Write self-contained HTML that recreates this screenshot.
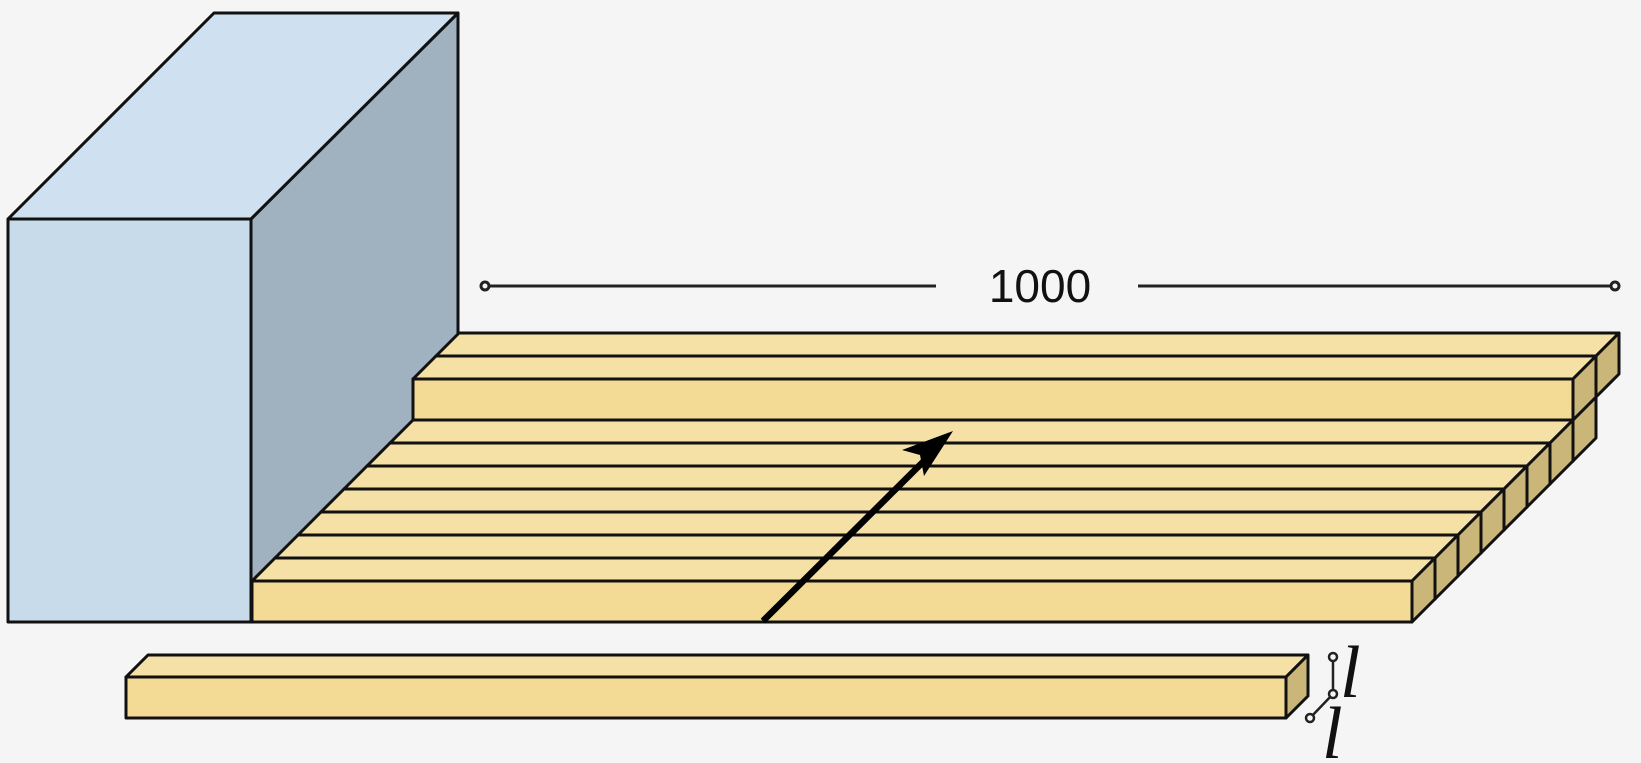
<!DOCTYPE html>
<html><head><meta charset="utf-8"><style>
html,body{margin:0;padding:0;background:#f5f5f5;}
svg{display:block;}
</style></head><body>
<svg id="fig" width="1641" height="763" viewBox="0 0 1641 763" xmlns="http://www.w3.org/2000/svg">
<rect width="1641" height="763" fill="#f5f5f5"/>
<g stroke="#111" stroke-width="3" stroke-linejoin="round">
<polygon points="251,219 458,13 458,400 251,622" fill="#a0b1c0"/>
<polygon points="8,219 214,13 458,13 251,219" fill="#cfe1f0"/>
<rect x="8" y="219" width="243" height="403" fill="#c8dbeb"/>
</g>
<g id="bars"></g>
<g stroke="#222" stroke-width="3" fill="#f5f5f5">
<line x1="489" y1="286" x2="936" y2="286"/>
<line x1="1138" y1="286" x2="1611" y2="286"/>
<circle cx="485" cy="286" r="4"/>
<circle cx="1615" cy="286" r="4"/>
</g>
<text x="1040" y="302" text-anchor="middle" font-family="Liberation Sans, sans-serif" font-size="46" fill="#111">1000</text>
<g>
<line x1="763" y1="621" x2="932" y2="453" stroke="#000" stroke-width="6.5"/>
<polygon points="953,431 902,450 920,455 924,476" fill="#000"/>
</g>
<g stroke="#222" stroke-width="2.5" fill="#f5f5f5">
<line x1="1333" y1="657" x2="1333" y2="694"/>
<line x1="1333" y1="694" x2="1310" y2="718"/>
<circle cx="1333" cy="657" r="4"/>
<circle cx="1333" cy="694" r="4"/>
<circle cx="1310" cy="718" r="4"/>
</g>
<text x="1340" y="697" font-family="Liberation Serif, serif" font-style="italic" font-size="74" fill="#111">l</text>
<text x="1322" y="758" font-family="Liberation Serif, serif" font-style="italic" font-size="74" fill="#111">l</text>
</svg>
<script>
const bottomLayerCount = 8;
const topLayerCount = 2;
const barLength = 1160;
const depth = 23;
const barHeight = 41;
const NS = "http://www.w3.org/2000/svg";
const g = document.getElementById('bars');
function poly(pts, fill, name){
  const p = document.createElementNS(NS,'polygon');
  p.setAttribute('points', pts.map(a=>a.join(',')).join(' '));
  p.setAttribute('fill', fill);
  p.setAttribute('stroke', '#111');
  p.setAttribute('stroke-width', '3');
  p.setAttribute('stroke-linejoin', 'round');
  
  
  g.appendChild(p);
}
function bar(x, y, L, d, name){
  poly([[x,y],[x+L,y],[x+L+d,y-d],[x+d,y-d]], '#f5e0a6', name+'-top');
  poly([[x+L,y],[x+L+d,y-d],[x+L+d,y-d+barHeight],[x+L,y+barHeight]], '#cbb679', name+'-end');
  poly([[x,y],[x+L,y],[x+L,y+barHeight],[x,y+barHeight]], '#f3da95', name+'-front');
}
for(let k=bottomLayerCount-1;k>=0;k--){
  bar(252+depth*k, 581-depth*k, barLength, depth, 'bottom-bar-'+k);
}
for(let j=topLayerCount-1;j>=0;j--){
  bar(252+depth*(bottomLayerCount-1)+depth*j, 581-depth*(bottomLayerCount-1)-barHeight-depth*j, barLength, depth, 'top-bar-'+j);
}
bar(126, 677, barLength, 22, 'single-bar');
</script>
</body></html>
